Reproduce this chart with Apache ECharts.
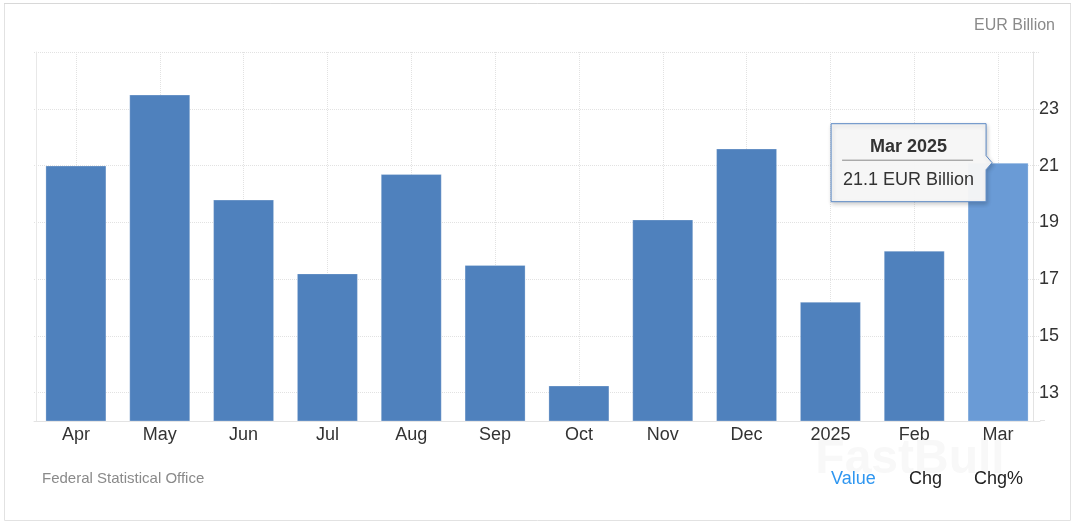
<!DOCTYPE html>
<html><head><meta charset="utf-8">
<script src="https://cdn.jsdelivr.net/npm/echarts@6/dist/echarts.min.js"></script>
<style>html,body{margin:0;padding:0;background:#fff}#c{width:1076px;height:524px}</style>
</head><body><div id="c"></div>
<script>
const categories = ['Apr','May','Jun','Jul','Aug','Sep','Oct','Nov','Dec','2025','Feb','Mar'];
const values = [21.0, 23.5, 19.8, 17.2, 20.7, 17.5, 13.25, 19.1, 21.6, 16.2, 18.0, 21.1];
const yLabelTicks = [13, 15, 17, 19, 21, 23];
const yGridTicks = [13, 15, 17, 19, 21, 23, 25];
const yMin = 12, yMax = 25;
const unit = 'EUR Billion';
const source = 'Federal Statistical Office';
const tabs = ['Value', 'Chg', 'Chg%'];
const highlightIndex = 11;
const highlightLabel = 'Mar 2025';

const FONT = '"Liberation Sans", Arial, sans-serif';
const BAR = '#4f81bd', BAR_HI = '#6a9bd6';

const chart = echarts.init(document.getElementById('c'), null, {renderer: 'canvas'});

const option = {
  animation: false,
  backgroundColor: '#fff',
  grid: {left: 34, right: 36, top: 52, bottom: 103, containLabel: false},
  xAxis: {
    type: 'category',
    data: categories,
    axisLine: {show: true, lineStyle: {color: '#e3e3e3', width: 1}},
    axisTick: {show: false},
    axisLabel: {fontSize: 18, color: '#333', fontFamily: FONT, margin: 5},
    splitLine: {show: true, alignWithLabel: true, lineStyle: {color: '#e2e2e2', type: 'dotted', width: 1}}
  },
  yAxis: [{
    type: 'value', position: 'right', min: yMin, max: yMax, offset: -7,
    axisLine: {show: true, lineStyle: {color: '#e3e3e3'}},
    axisTick: {show: false, customValues: yGridTicks},
    axisLabel: {customValues: yLabelTicks, fontSize: 18, color: '#333', fontFamily: FONT, margin: 6},
    splitLine: {show: true, lineStyle: {color: '#e2e2e2', type: 'dotted', width: 1}}
  }, {
    type: 'value', position: 'left', min: yMin, max: yMax, offset: -2,
    axisLine: {show: true, lineStyle: {color: '#e8e8e8'}},
    axisTick: {show: false}, axisLabel: {show: false}, splitLine: {show: false}
  }],
  series: [{
    type: 'bar',
    yAxisIndex: 0,
    barWidth: 61,
    data: values.map((v, i) => i === highlightIndex ? {value: v, itemStyle: {color: BAR_HI}} : v),
    itemStyle: {color: BAR, borderColor: 'rgba(255,255,255,0.25)', borderWidth: 1},
    emphasis: {disabled: true}
  }]
};
chart.setOption(option);

const p = chart.convertToPixel({seriesIndex: 0}, [highlightIndex, values[highlightIndex]]);
const tipX = p[0] - 6, tipY = p[1];
const R = tipX - 6, L = R - 155, T = tipY - 39, B = T + 78;

chart.setOption({
  graphic: [
    {type: 'rect', silent: true, z: -10, shape: {x: 4.5, y: 3.5, width: 1066, height: 517},
     style: {fill: 'none', stroke: '#e2e2e2', lineWidth: 1}},
    {type: 'line', silent: true, z: -9, shape: {x1: 4, y1: 3.5, x2: 1071, y2: 3.5}, style: {stroke: '#d8d8d8', lineWidth: 1}},
    {type: 'line', silent: true, z: 1, shape: {x1: 1040, y1: 420.5, x2: 1045, y2: 420.5}, style: {stroke: '#e3e3e3', lineWidth: 1}},
    {type: 'text', x: 1055, y: 26, style: {text: unit, fill: '#8a8a8a', fontSize: 16, fontFamily: FONT, align: 'right', verticalAlign: 'middle'}},
    {type: 'text', x: 910, y: 460, z: 0, style: {text: 'FastBull', fill: '#f8f8f8', fontSize: 48, fontWeight: 'bold', fontFamily: FONT, align: 'center', verticalAlign: 'middle', shadowBlur: 6, shadowColor: 'rgba(0,0,0,0.07)'}},
    {type: 'text', x: 42, y: 479, style: {text: source, fill: '#8a8a8a', fontSize: 15, fontFamily: FONT, align: 'left', verticalAlign: 'middle'}},
    {type: 'text', x: 831, y: 479, style: {text: tabs[0], fill: '#2f96f0', fontSize: 18, fontFamily: FONT, align: 'left', verticalAlign: 'middle'}},
    {type: 'text', x: 909, y: 479, style: {text: tabs[1], fill: '#222', fontSize: 18, fontFamily: FONT, align: 'left', verticalAlign: 'middle'}},
    {type: 'text', x: 974, y: 479, style: {text: tabs[2], fill: '#222', fontSize: 18, fontFamily: FONT, align: 'left', verticalAlign: 'middle'}},
    {type: 'polygon', z: 50, shape: {points: [[L, T], [R, T], [R, tipY - 7], [tipX, tipY], [R, tipY + 7], [R, B], [L, B]]},
     style: {fill: 'rgba(247,247,247,0.97)', stroke: '#5b88c4', lineWidth: 1, shadowBlur: 4, shadowOffsetX: 1, shadowOffsetY: 2, shadowColor: 'rgba(0,0,0,0.2)'}},
    {type: 'text', z: 51, x: (L + R) / 2, y: T + 23, style: {text: highlightLabel, fill: '#333', fontSize: 18, fontWeight: 'bold', fontFamily: FONT, align: 'center', verticalAlign: 'middle'}},
    {type: 'line', z: 51, shape: {x1: L + 11, y1: T + 36.5, x2: R - 13, y2: T + 36.5}, style: {stroke: '#888', lineWidth: 1}},
    {type: 'text', z: 51, x: (L + R) / 2, y: T + 56, style: {text: values[highlightIndex] + ' ' + unit, fill: '#333', fontSize: 18, fontFamily: FONT, align: 'center', verticalAlign: 'middle'}}
  ]
});
</script></body></html>
